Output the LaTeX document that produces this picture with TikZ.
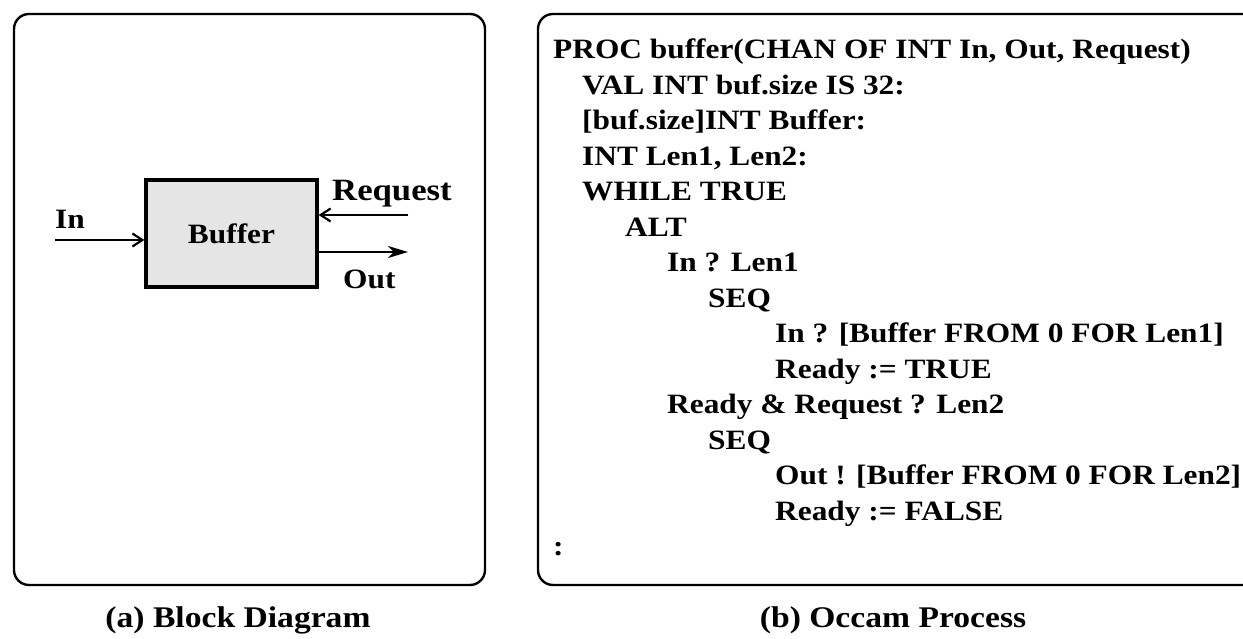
\documentclass[tikz,border=0pt]{standalone}
\usepackage{fontspec}
\usetikzlibrary{arrows.meta}
\newfontfamily\tbf{Liberation Serif Bold}[FakeStretch=1.12]
\tikzset{
  panel/.style={draw, line width=2.4pt, rounded corners=15pt},
  block/.style={draw, line width=3.2pt, fill=black!10, minimum width=171pt, minimum height=107pt, inner sep=0pt,
                font=\tbf\fontsize{28}{28}\selectfont},
  lbl/.style={anchor=base west, inner sep=0pt, font=\tbf\fontsize{28}{28}\selectfont},
  codeline/.style={anchor=base west, inner sep=0pt, font=\tbf\fontsize{28}{28}\selectfont},
  caption/.style={anchor=base, inner sep=0pt, font=\tbf\fontsize{30}{30}\selectfont},
  chan/.style={line width=2.6pt},
  barb/.style={-{Straight Barb[length=10pt,width=13pt,line width=2.2pt]}},
  bigtip/.style={-{Stealth[length=20pt,width=12pt,inset=6pt]}}
}
\begin{document}
\begin{tikzpicture}[x=1pt,y=1pt]
\clip (0,0) rectangle (1243,639);
% panel frames
\draw[panel] (14,625) rectangle (485,54);
\draw[panel] (538,625) rectangle (1290,54);

% (a) block diagram
\node[block] (buf) at (231.5,405.5) {Buffer};
\coordinate (inS) at (55,399);
\coordinate (reqS) at (408,424);
\coordinate (outE) at (408,387);
\draw[chan,barb] (inS) -- (inS -| buf.west);
\draw[chan,barb] (reqS) -- (reqS -| buf.east);
\draw[chan,bigtip] (outE -| buf.east) -- (outE);
\node[lbl] (inL) at (55,410) {In};
\node[lbl,font=\tbf\fontsize{31}{31}\selectfont] (reqL) at (332,438) {Request};
\node[lbl] (outL) at (343,350) {Out};

% (b) occam source
\node[codeline] (c1)  at (553,580.0) {PROC buffer(CHAN OF INT In, Out, Request)};
\node[codeline] (c2)  at (582,544.5) {VAL INT buf.size IS 32:};
\node[codeline] (c3)  at (582,509.0) {[buf.size]INT Buffer:};
\node[codeline] (c4)  at (582,473.5) {INT Len1, Len2:};
\node[codeline] (c5)  at (582,438.0) {WHILE TRUE};
\node[codeline] (c6)  at (625,402.5) {ALT};
\node[codeline] (c7)  at (667,367.0) {In ? Len1};
\node[codeline] (c8)  at (708,331.5) {SEQ};
\node[codeline] (c9)  at (775,296.0) {In ? [Buffer FROM 0 FOR Len1]};
\node[codeline] (c10) at (775,260.5) {Ready := TRUE};
\node[codeline] (c11) at (667,225.0) {Ready \& Request ? Len2};
\node[codeline] (c12) at (708,189.5) {SEQ};
\node[codeline] (c13) at (775,154.0) {Out ! [Buffer FROM 0 FOR Len2]};
\node[codeline] (c14) at (775,118.5) {Ready := FALSE};
\node[codeline] (c15) at (553,83.0) {:};

% captions
\node[caption] (capA) at (238,11) {(a) Block Diagram};
\node[caption] (capB) at (893,11) {(b) Occam Process};
\end{tikzpicture}
\end{document}
